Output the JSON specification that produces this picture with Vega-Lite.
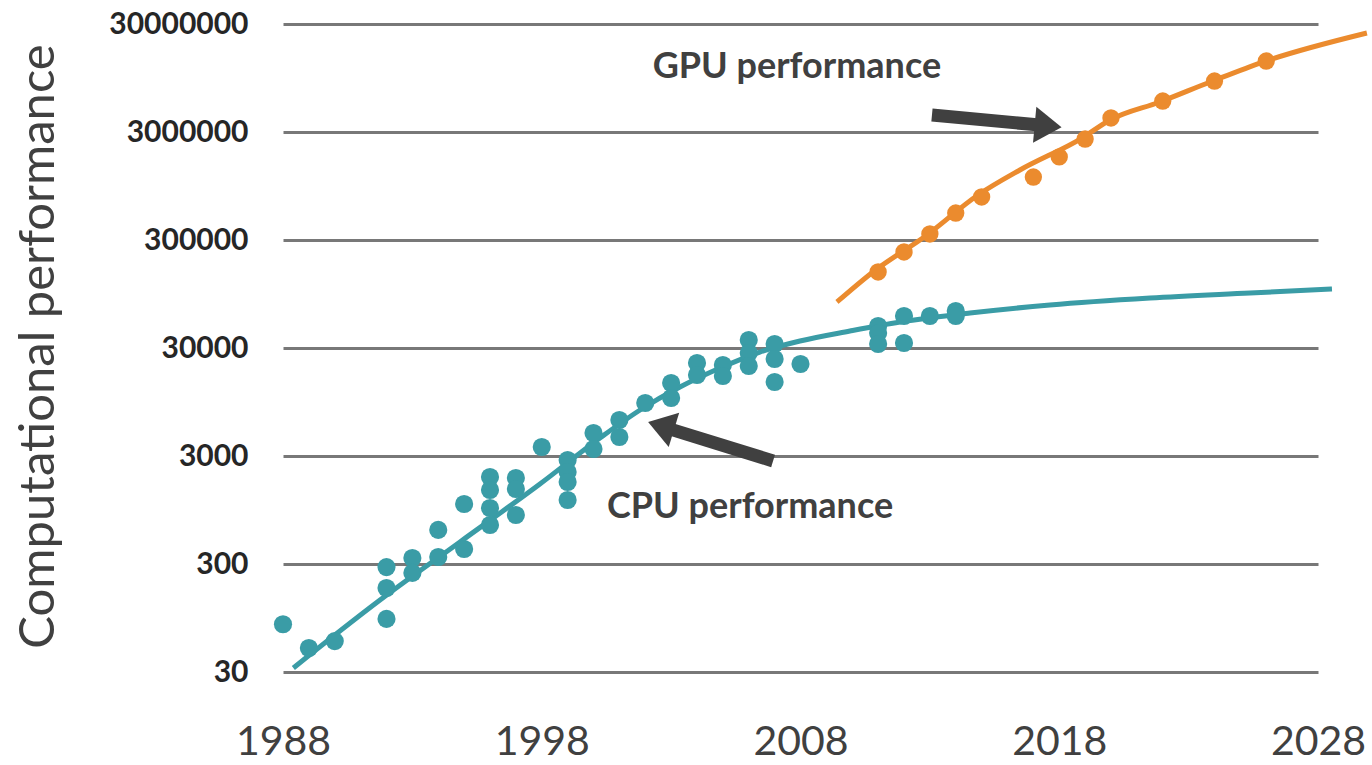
{
  "$schema": "https://vega.github.io/schema/vega-lite/v6.json",
  "width": 1035,
  "height": 648,
  "autosize": {"type": "none"},
  "padding": {"left": 283, "top": 24, "right": 54, "bottom": 93},
  "background": "white",
  "config": {
    "view": {"stroke": null},
    "font": "Lato"
  },
  "datasets": {
    "cpu": [
      {"year": 1988, "perf": 83}, {"year": 1989, "perf": 50}, {"year": 1990, "perf": 58},
      {"year": 1992, "perf": 281}, {"year": 1992, "perf": 180}, {"year": 1992, "perf": 93},
      {"year": 1993, "perf": 341}, {"year": 1993, "perf": 248},
      {"year": 1994, "perf": 620}, {"year": 1994, "perf": 348},
      {"year": 1995, "perf": 1078}, {"year": 1995, "perf": 413},
      {"year": 1996, "perf": 1918}, {"year": 1996, "perf": 1453}, {"year": 1996, "perf": 990}, {"year": 1996, "perf": 689},
      {"year": 1997, "perf": 1877}, {"year": 1997, "perf": 1484}, {"year": 1997, "perf": 853},
      {"year": 1998, "perf": 3633},
      {"year": 1999, "perf": 2755}, {"year": 1999, "perf": 2133}, {"year": 1999, "perf": 1722}, {"year": 1999, "perf": 1174},
      {"year": 2000, "perf": 4900}, {"year": 2000, "perf": 3483},
      {"year": 2001, "perf": 6460}, {"year": 2001, "perf": 4500},
      {"year": 2002, "perf": 9290},
      {"year": 2003, "perf": 14230}, {"year": 2003, "perf": 10330},
      {"year": 2004, "perf": 21800}, {"year": 2004, "perf": 16870},
      {"year": 2005, "perf": 20880}, {"year": 2005, "perf": 16500},
      {"year": 2006, "perf": 35570}, {"year": 2006, "perf": 26980}, {"year": 2006, "perf": 20440},
      {"year": 2007, "perf": 32660}, {"year": 2007, "perf": 23730}, {"year": 2007, "perf": 14530},
      {"year": 2008, "perf": 21340},
      {"year": 2011, "perf": 47970}, {"year": 2011, "perf": 41300}, {"year": 2011, "perf": 32660},
      {"year": 2012, "perf": 59330}, {"year": 2012, "perf": 33370},
      {"year": 2013, "perf": 59330},
      {"year": 2014, "perf": 66060}, {"year": 2014, "perf": 59330}
    ],
    "gpu": [
      {"year": 2011, "perf": 151700}, {"year": 2012, "perf": 232300}, {"year": 2013, "perf": 341000},
      {"year": 2014, "perf": 533400}, {"year": 2015, "perf": 750500}, {"year": 2017, "perf": 1149000},
      {"year": 2018, "perf": 1762000}, {"year": 2019, "perf": 2584000}, {"year": 2020, "perf": 4046000},
      {"year": 2022, "perf": 5808000}, {"year": 2024, "perf": 8897000}, {"year": 2026, "perf": 13630000}
    ],
    "cpuFit": [
      {"year": 1988.4, "perf": 32.7}, {"year": 1991.75, "perf": 139}, {"year": 1994.84, "perf": 480},
      {"year": 1997.93, "perf": 1651}, {"year": 2000.25, "perf": 4403}, {"year": 2001.8, "perf": 8000},
      {"year": 2003.34, "perf": 13060}, {"year": 2004.89, "perf": 19590}, {"year": 2006.43, "perf": 27540},
      {"year": 2007.98, "perf": 34830}, {"year": 2009.91, "perf": 43070}, {"year": 2011.85, "perf": 52220},
      {"year": 2014.55, "perf": 63270}, {"year": 2017.64, "perf": 75040}, {"year": 2021.51, "perf": 87110},
      {"year": 2025.37, "perf": 96880}, {"year": 2028.54, "perf": 105500}
    ],
    "gpuFit": [
      {"year": 2009.41, "perf": 80000}, {"year": 2010.8, "perf": 151700}, {"year": 2012.89, "perf": 334000},
      {"year": 2014.86, "perf": 783000}, {"year": 2016.48, "perf": 1334000}, {"year": 2018.88, "perf": 2638000},
      {"year": 2019.96, "perf": 3875000}, {"year": 2021.89, "perf": 5690000}, {"year": 2023.83, "perf": 8710000},
      {"year": 2025.87, "perf": 13340000}, {"year": 2029.89, "perf": 24770000}
    ],
    "arrows": [
      {"name": "GPU", "year": 2013.08, "perf": 4310000, "year2": 2017.45, "perf2": 3440000, "hx": 2017.57, "hy": 3410000},
      {"name": "CPU", "year": 2006.94, "perf": 2698, "year2": 2002.75, "perf2": 5520, "hx": 2002.61, "hy": 5690}
    ],
    "labels": [
      {"text": "GPU performance", "year": 2007.86, "perf": 12000000},
      {"text": "CPU performance", "year": 2006.05, "perf": 1011}
    ]
  },
  "encoding": {
    "x": {
      "field": "year", "type": "quantitative",
      "scale": {"domain": [1988, 2028], "nice": false, "zero": false},
      "axis": {
        "values": [1988, 1998, 2008, 2018, 2028], "format": "d", "title": null,
        "grid": false, "domain": false, "ticks": false,
        "labelFont": "Lato", "labelFontSize": 41, "labelColor": "#404040",
        "labelPadding": 50, "labelFlush": false
      }
    },
    "y": {
      "field": "perf", "type": "quantitative",
      "scale": {"type": "log", "domain": [30, 30000000], "nice": false},
      "axis": {
        "values": [30, 300, 3000, 30000, 300000, 3000000, 30000000], "format": "d",
        "title": "Computational performance",
        "titleFont": "Lato", "titleFontSize": 49, "titleFontWeight": "normal", "titleColor": "#404040",
        "titleAngle": -90, "titleAlign": "center", "titleBaseline": "alphabetic",
        "titleX": -230, "titleY": 322,
        "grid": true, "gridColor": "#787878", "gridWidth": 3,
        "domain": false, "ticks": false,
        "labelFont": "Lato", "labelFontSize": 30, "labelFontWeight": "bold", "labelColor": "#262626",
        "labelPadding": 35, "labelFlush": false
      }
    }
  },
  "layer": [
    {
      "data": {"name": "cpuFit"},
      "mark": {"type": "line", "color": "#3A9CA6", "strokeWidth": 5, "interpolate": "monotone"}
    },
    {
      "data": {"name": "gpuFit"},
      "mark": {"type": "line", "color": "#EB8B2E", "strokeWidth": 5, "interpolate": "monotone"}
    },
    {
      "data": {"name": "cpu"},
      "mark": {"type": "circle", "color": "#3A9CA6", "opacity": 1, "size": 330}
    },
    {
      "data": {"name": "gpu"},
      "mark": {"type": "circle", "color": "#EB8B2E", "opacity": 1, "size": 300}
    },
    {
      "data": {"name": "arrows"},
      "mark": {"type": "rule", "color": "#404040", "strokeWidth": 13, "strokeCap": "butt"},
      "encoding": {
        "x2": {"field": "year2"},
        "y2": {"field": "perf2"}
      }
    },
    {
      "data": {"name": "arrows"},
      "transform": [{"filter": "datum.name == 'GPU'"}],
      "mark": {"type": "point", "filled": true, "color": "#404040", "opacity": 1, "size": 1296, "angle": 5.3, "shape": "M -0.75 -1 L 0.75 0 L -0.75 1 Z"},
      "encoding": {
        "x": {"field": "hx", "type": "quantitative"},
        "y": {"field": "hy", "type": "quantitative"}
      }
    },
    {
      "data": {"name": "arrows"},
      "transform": [{"filter": "datum.name == 'CPU'"}],
      "mark": {"type": "point", "filled": true, "color": "#404040", "opacity": 1, "size": 1296, "angle": 196.9, "shape": "M -0.75 -1 L 0.75 0 L -0.75 1 Z"},
      "encoding": {
        "x": {"field": "hx", "type": "quantitative"},
        "y": {"field": "hy", "type": "quantitative"}
      }
    },
    {
      "data": {"name": "labels"},
      "mark": {"type": "text", "font": "Lato", "fontSize": 36, "fontWeight": "bold", "color": "#404040", "align": "center", "baseline": "middle"},
      "encoding": {
        "text": {"field": "text"}
      }
    }
  ]
}
